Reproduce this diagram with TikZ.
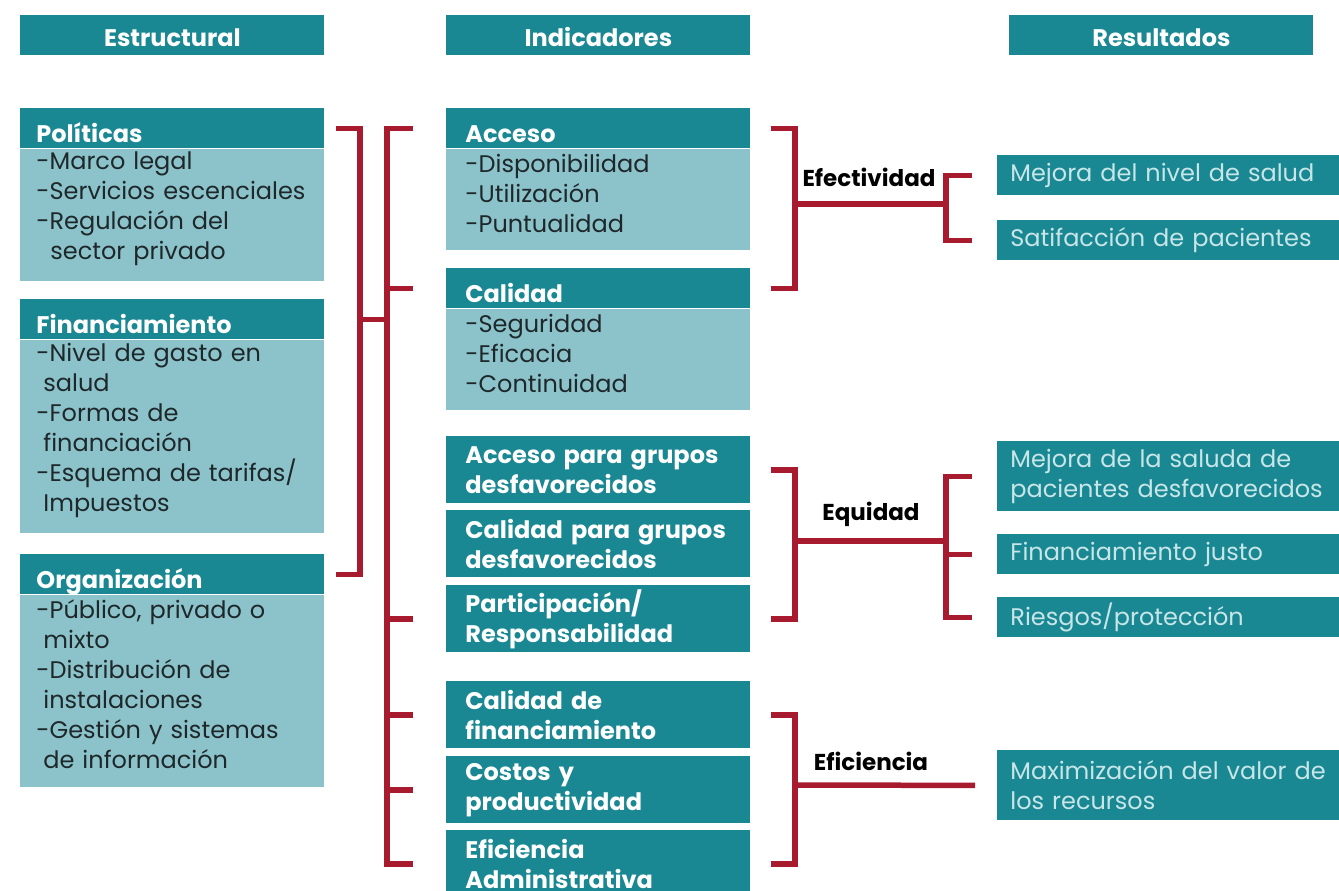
\documentclass[tikz,border=0pt]{standalone}
\usepackage{fontspec}
\setmainfont{Poppins}
\definecolor{TealDark}{RGB}{26,136,147}
\definecolor{TealLight}{RGB}{140,195,203}
\definecolor{BodyText}{RGB}{30,40,42}
\definecolor{ResultText}{RGB}{200,230,232}
\definecolor{BracketRed}{RGB}{168,27,46}
\begin{document}
\begin{tikzpicture}
[
x=0.5pt, y=-0.5pt,
Header/.style={rectangle, fill=TealDark, text=white, font=\bfseries\fontsize{12}{14}\selectfont, minimum width=152pt, minimum height=20pt, text height=11pt, text depth=0pt, inner sep=0pt, anchor=north west},
Box/.style={rectangle, fill=TealDark, text=white, font=\bfseries\fontsize{12}{15}\selectfont, align=left, text width=136pt, inner xsep=8pt, inner ysep=0pt, anchor=north west},
Title/.style={Box, minimum height=20pt, text height=14pt, text depth=0pt},
Indicator/.style={Box, Mid, minimum height=33.5pt},
Body/.style={rectangle, fill=TealLight, text=BodyText, font=\fontsize{12}{15}\selectfont, align=left, text width=136pt, inner xsep=8pt, inner ysep=0pt, text height=2.5pt, anchor=north west},
Mid/.style={text width=133pt, inner xsep=9.5pt},
Result/.style={rectangle, fill=TealDark, text=ResultText, font=\fontsize{12}{15}\selectfont, align=left, text width=190pt, inner xsep=6.5pt, inner ysep=0pt, minimum height=20pt, anchor=north west},
Label/.style={font=\bfseries\fontsize{11.5}{13}\selectfont, text=black, anchor=base},
Bracket/.style={draw=BracketRed, line width=2.75pt}
]
\useasboundingbox (0,0) rectangle (1339,890);
\clip (0,0) rectangle (1339,890);

% column heads
\node[Header] (hEstructural) at (20,15) {Estructural};
\node[Header] (hIndicadores) at (446,15) {Indicadores};
\node[Header] (hResultados) at (1009,15) {Resultados};

% estructural
\node[Title] (politicas) at (20,108) {Políticas};
\node[Body, minimum height=66pt] (politicasBody) at (politicas.south west) {-Marco legal\\-Servicios escenciales\\-Regulación del\\\hspace*{7pt}sector privado};
\node[Title] (financiamiento) at (20,299) {Financiamiento};
\node[Body, minimum height=96.5pt] (financiamientoBody) at (financiamiento.south west) {-Nivel de gasto en\\\hspace*{3.5pt}salud\\-Formas de\\\hspace*{3.5pt}financiación\\-Esquema de tarifas/\\\hspace*{3.5pt}Impuestos};
\node[Title] (organizacion) at (20,554) {Organización};
\node[Body, minimum height=96pt] (organizacionBody) at (organizacion.south west) {-Público, privado o\\\hspace*{3.5pt}mixto\\-Distribución de\\\hspace*{3.5pt}instalaciones\\-Gestión y sistemas\\\hspace*{3.5pt}de información};

% indicadores
\node[Title, Mid] (acceso) at (446,108) {Acceso};
\node[Body, Mid, minimum height=50.5pt] (accesoBody) at (acceso.south west) {-Disponibilidad\\-Utilización\\-Puntualidad};
\node[Title, Mid] (calidad) at (446,268) {Calidad};
\node[Body, Mid, minimum height=50.5pt] (calidadBody) at (calidad.south west) {-Seguridad\\-Eficacia\\-Continuidad};
\node[Indicator] (accesoGrupos) at (446,436) {Acceso para grupos\\desfavorecidos};
\node[Indicator] (calidadGrupos) at (446,510) {Calidad para grupos\\desfavorecidos};
\node[Indicator] (participacion) at (446,585) {Participación/\\Responsabilidad};
\node[Indicator] (calidadFin) at (446,681) {Calidad de\\financiamiento};
\node[Indicator] (costos) at (446,756) {Costos y\\productividad};
\node[Indicator] (eficienciaAdm) at (446,830) {Eficiencia\\Administrativa};

% resultados
\node[Result] (mejoraSalud) at (997,155) {Mejora del nivel de salud};
\node[Result] (satisfaccion) at (997,220) {Satifacción de pacientes};
\node[Result, minimum height=35pt] (mejoraDesf) at (997,441) {Mejora de la saluda de\\pacientes desfavorecidos};
\node[Result] (finJusto) at (997,534) {Financiamiento justo};
\node[Result] (riesgos) at (997,597) {Riesgos/protección};
\node[Result, minimum height=35pt] (maximizacion) at (997,750) {Maximización del valor de\\los recursos};

\node[Label] (efectividad) at (869,186) {Efectividad};
\node[Label] (equidad) at (871,520) {Equidad};
\node[Label] (eficiencia) at (871,770) {Eficiencia};

% brackets
\coordinate (spineL) at (360,0);
\coordinate (spineM) at (387,0);
\coordinate (spineO) at (946,0);
\coordinate (jEfe) at (795,204);
\coordinate (jEqu) at (795,541);
\coordinate (jEfi) at (795,785);

\draw[Bracket] ([xshift=5.5pt]politicas.east) -| (spineL |- organizacion.east) -- ([xshift=5.5pt]organizacion.east);
\draw[Bracket] (spineL |- financiamiento.east) -- (spineM |- financiamiento.east);
\draw[Bracket] ([xshift=-16.5pt]acceso.west) -| (spineM |- eficienciaAdm.west) -- ([xshift=-16.5pt]eficienciaAdm.west);
\foreach \n in {calidad,participacion,calidadFin,costos}
  \draw[Bracket] (spineM |- \n.west) -- ([xshift=-16.5pt]\n.west);

\draw[Bracket] ([xshift=10pt]acceso.east) -| (jEfe) |- ([xshift=10pt]calidad.east);
\draw[Bracket] (jEfe) -- (jEfe -| spineO);
\draw[Bracket] ([xshift=-12.5pt]mejoraSalud.west) -| (spineO |- satisfaccion.west) -- ([xshift=-12.5pt]satisfaccion.west);

\draw[Bracket] ([xshift=10pt]accesoGrupos.east) -| (jEqu) |- ([xshift=10pt]participacion.east);
\draw[Bracket] (jEqu) -- (jEqu -| spineO);
\draw[Bracket] ([xshift=-12.5pt]mejoraDesf.west) -| (spineO |- riesgos.west) -- ([xshift=-12.5pt]riesgos.west);
\draw[Bracket] (spineO |- finJusto.west) -- ([xshift=-12.5pt]finJusto.west);

\draw[Bracket] ([xshift=10pt]calidadFin.east) -| (jEfi) |- ([xshift=10pt]eficienciaAdm.east);
\draw[Bracket] (jEfi) -- ([xshift=-11pt]maximizacion.west);
\end{tikzpicture}
\end{document}
